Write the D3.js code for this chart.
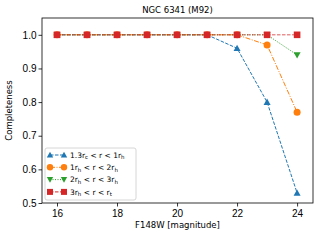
<!DOCTYPE html>
<html>
<head>
<meta charset="utf-8">
<script src="https://cdn.jsdelivr.net/npm/d3@7"></script>
<style>
  body { margin: 0; background: #fff; }
  svg { font-family: "DejaVu Sans", sans-serif; }
</style>
</head>
<body>
<svg id="chart" width="320" height="240"></svg>
<script>
// magnitudes and completeness per radial bin
const mags = [16, 17, 18, 19, 20, 21, 22, 23, 24];
const inner = [1, 1, 1, 1, 1, 1, 0.96, 0.80, 0.53];
const mid = [1, 1, 1, 1, 1, 1, 1, 0.97, 0.77];
const outer = [1, 1, 1, 1, 1, 1, 1, 1, 0.94];
const edge = [1, 1, 1, 1, 1, 1, 1, 1, 1];
const xTicks = [16, 18, 20, 22, 24];
const yTicks = [0.5, 0.6, 0.7, 0.8, 0.9, 1.0];

const series = [
  { vals: inner, color: '#1f77b4', dash: '3.5,1.5', marker: 'up', label: [['1.3r', ''], ['c', 'sub'], [' < r < 1r', ''], ['h', 'sub']] },
  { vals: mid, color: '#ff7f0e', dash: '5,1.5,1,1.5', marker: 'circle', label: [['1r', ''], ['h', 'sub'], [' < r < 2r', ''], ['h', 'sub']] },
  { vals: outer, color: '#2ca02c', dash: '1,1.5', marker: 'down', label: [['2r', ''], ['h', 'sub'], [' < r < 3r', ''], ['h', 'sub']] },
  { vals: edge, color: '#d62728', dash: '3.5,1.5', marker: 'square', label: [['3r', ''], ['h', 'sub'], [' < r < r', ''], ['t', 'sub']] }
];

const svg = d3.select('#chart');
const m = { left: 42, right: 313, top: 18, bottom: 203 };

let x = d3.scaleLinear().domain([15.5, 24.53]).range([m.left, m.right]);
let y = d3.scaleLinear().domain([0.5, 1.05]).range([m.bottom, m.top]);

svg.append('g')
  .attr('transform', `translate(0,${m.bottom})`)
  .call(d3.axisBottom(x).tickValues(xTicks).tickFormat(d3.format('d')).tickSize(3.5).tickPadding(3))
  .call(g => g.select('.domain').remove())
  .selectAll('text').attr('font-size', 10).attr('fill', '#000');

svg.append('g')
  .attr('transform', `translate(${m.left},0)`)
  .call(d3.axisLeft(y).tickValues(yTicks).tickFormat(d3.format('.1f')).tickSize(3.5).tickPadding(2))
  .call(g => g.select('.domain').remove())
  .selectAll('text').attr('font-size', 10).attr('fill', '#000');

svg.selectAll('.tick line').attr('stroke', '#000').attr('stroke-width', 0.8);

function markerPath(type, s) {
  if (type === 'up') return `M0,${-s}L${s},${s * 0.8}L${-s},${s * 0.8}Z`;
  if (type === 'down') return `M0,${s}L${s},${-s * 0.8}L${-s},${-s * 0.8}Z`;
  if (type === 'square') return `M${-s},${-s}H${s}V${s}H${-s}Z`;
  return d3.symbol(d3.symbolCircle, Math.PI * s * s)();
}

let line = d3.line().x((d, i) => x(mags[i])).y(d => y(d));

let groups = svg.selectAll('.series')
  .data(series)
  .enter()
  .append('g')
  .classed('series', true);

groups.append('path')
  .attr('d', d => line(d.vals))
  .attr('fill', 'none')
  .attr('stroke', d => d.color)
  .attr('stroke-width', 1)
  .attr('stroke-dasharray', d => d.dash)
  .attr('opacity', d => d.marker === 'square' ? 0.75 : 1);

groups.each(function (s) {
  d3.select(this).selectAll('path.pt')
    .data(s.vals)
    .enter()
    .append('path')
    .classed('pt', true)
    .attr('transform', (d, i) => `translate(${x(mags[i])},${y(d)})`)
    .attr('d', markerPath(s.marker, s.marker === 'square' ? 3.3 : 3.5))
    .attr('fill', s.color);
});

// frame
svg.append('rect')
  .attr('x', m.left).attr('y', m.top)
  .attr('width', m.right - m.left).attr('height', m.bottom - m.top)
  .attr('fill', 'none').attr('stroke', '#000').attr('stroke-width', 0.8);

// legend
let lg = svg.append('g').attr('transform', 'translate(45,148)');
lg.append('rect')
  .attr('width', 91).attr('height', 52).attr('rx', 2)
  .attr('fill', '#fff').attr('fill-opacity', 0.8)
  .attr('stroke', '#ccc').attr('stroke-width', 0.8);

let items = lg.selectAll('.item')
  .data(series)
  .enter()
  .append('g')
  .attr('transform', (d, i) => `translate(5,${7 + i * 12.3})`);

items.append('line')
  .attr('x1', 0).attr('x2', 14)
  .attr('stroke', d => d.color)
  .attr('stroke-dasharray', d => d.dash);

items.selectAll('path.mk')
  .data(d => [0, 14].map(px => ({ px, s: d })))
  .enter()
  .append('path')
  .attr('transform', d => `translate(${d.px},0)`)
  .attr('d', d => markerPath(d.s.marker, d.s.marker === 'square' ? 3 : 3.2))
  .attr('fill', d => d.s.color);

let labels = items.append('text')
  .attr('x', 20).attr('y', 2.8)
  .attr('font-size', 7.5);

labels.selectAll('tspan')
  .data(d => d.label)
  .enter()
  .append('tspan')
  .attr('font-size', d => d[1] === 'sub' ? 5.5 : 7.5)
  .attr('dy', (d, i, a) => {
    if (d[1] === 'sub') return 1.5;
    return i > 0 && a[i - 1].__data__[1] === 'sub' ? -1.5 : 0;
  })
  .text(d => d[0]);

// titles
svg.append('text')
  .attr('x', (m.left + m.right) / 2).attr('y', 13)
  .attr('text-anchor', 'middle').attr('font-size', 8.5)
  .text('NGC 6341 (M92)');

svg.append('text')
  .attr('x', (m.left + m.right) / 2).attr('y', 227.5)
  .attr('text-anchor', 'middle').attr('font-size', 8.5)
  .text('F148W [magnitude]');

svg.append('text')
  .attr('transform', `translate(12,${(m.top + m.bottom) / 2}) rotate(-90)`)
  .attr('text-anchor', 'middle').attr('font-size', 8.5)
  .text('Completeness');
</script>
</body>
</html>
